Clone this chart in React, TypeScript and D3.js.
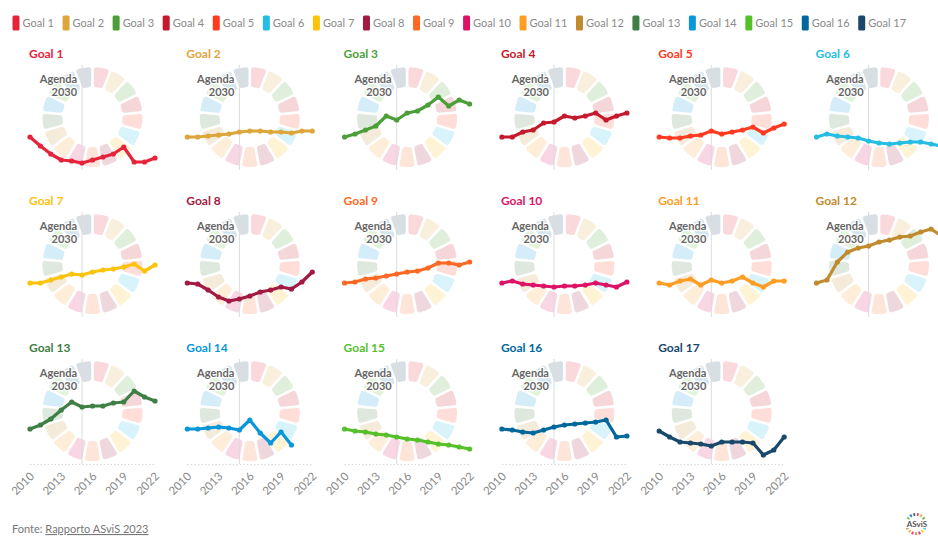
import React, { useMemo } from "react";
import * as d3 from "d3";

const years = [2010, 2011, 2012, 2013, 2014, 2015, 2016, 2017, 2018, 2019, 2020, 2021, 2022];
const tickYears = [2010, 2013, 2016, 2019, 2022];
const agendaYear = 2015;

const goalLabels = [
  "Goal 1", "Goal 2", "Goal 3", "Goal 4", "Goal 5", "Goal 6", "Goal 7", "Goal 8", "Goal 9",
  "Goal 10", "Goal 11", "Goal 12", "Goal 13", "Goal 14", "Goal 15", "Goal 16", "Goal 17",
];

const goalColors = [
  "#E5243B", "#DDA63A", "#4C9F38", "#C5192D", "#FF3A21", "#26BDE2", "#FCC30B", "#A21942", "#FD6925",
  "#DD1367", "#FD9D24", "#BF8B2E", "#3F7E44", "#0A97D9", "#56C02B", "#00689D", "#19486A",
];

const g1 = [100, 91, 83, 77, 76, 74, 77, 80, 83, 90, 75, 75, 79];
const g2 = [100, 100, 101, 102, 103, 105, 106, 106, 105, 105, 104, 106, 106];
const g3 = [100, 103, 107, 111, 121, 117, 124, 126, 132, 140, 131, 137, 133];
const g4 = [100, 100, 105, 107, 114, 115, 121, 119, 121, 124, 117, 121, 124];
const g5 = [100, 99, 99, 101, 102, 106, 103, 105, 107, 110, 104, 109, 113];
const g6 = [100, 103, 101, 100, 99, 96, 94, 93, 94, 95, 95, 93, 91];
const g7 = [101, 101, 104, 107, 110, 109, 112, 114, 115, 117, 120, 113, 119];
const g8 = [101, 100, 94, 87, 83, 85, 88, 92, 94, 97, 95, 102, 112];
const g9 = [101, 102, 105, 106, 108, 110, 112, 113, 116, 121, 121, 119, 122];
const g10 = [101, 103, 100, 99, 98, 97, 98, 98, 99, 101, 99, 97, 102];
const g11 = [101, 99, 103, 105, 99, 104, 101, 103, 107, 101, 97, 103, 103];
const g12 = [101, 104, 122, 132, 136, 138, 142, 144, 147, 148, 152, 155, 148];
const g13 = [102, 106, 112, 121, 129, 124, 125, 125, 128, 129, 140, 134, 130];
const g14 = [102, 102, 103, 104, 103, 101, 111, 98, 88, 99, 86];
const g15 = [102, 100, 99, 97, 96, 94, 92, 91, 89, 87, 86, 84, 82];
const g16 = [102, 101, 99, 98, 101, 104, 106, 107, 108, 109, 111, 94, 95];
const g17 = [100, 94, 89, 88, 87, 85, 89, 89, 89, 88, 76, 81, 94];

const series = [g1, g2, g3, g4, g5, g6, g7, g8, g9, g10, g11, g12, g13, g14, g15, g16, g17];

const yDomain = [68, 172];

const W = 938;
const H = 537;
const FONT = "Lato, 'Noto Sans', sans-serif";

function measure(text: string, font: string): number {
  if (typeof document === "undefined") return text.length * 5.5;
  const c = document.createElement("canvas");
  const ctx = c.getContext("2d");
  if (!ctx) return text.length * 5.5;
  ctx.font = font;
  return ctx.measureText(text).width;
}

export default function App() {
  const cols = 6;
  const colPitch = 157.3;
  const rowPitch = 147;
  const x0 = 30;
  const plotW = 125;
  const plotTop = 65;
  const plotBot = 169;

  const xBase = d3.scaleLinear().domain([2010, 2022]).range([0, plotW]);
  const yBase = d3.scaleLinear().domain(yDomain).range([plotBot, plotTop]);

  const arcGen = d3
    .arc<any>()
    .innerRadius(30)
    .outerRadius(50)
    .padAngle(0.045)
    .cornerRadius(2.5);

  const logoArc = d3.arc<any>().innerRadius(8).outerRadius(11).padAngle(0.12);

  const legend = useMemo(() => {
    const font = `11px ${FONT}`;
    let x = 12.5;
    return goalLabels.map((label, i) => {
      const w = measure(label, font);
      const item = { x, label, color: goalColors[i] };
      x += 10 + w + 8.6;
      return item;
    });
  }, []);

  const wheelAngles = goalColors.map((c, i) => ({
    startAngle: (i * 2 * Math.PI) / 17,
    endAngle: ((i + 1) * 2 * Math.PI) / 17,
    color: c,
  }));

  const lastRow = Math.floor((goalLabels.length - 1) / cols);

  return (
    <svg
      width={W}
      height={H}
      style={{ position: "absolute", left: 0, top: 0, background: "#fff" }}
      fontFamily={FONT}
    >
      {/* Legend */}
      {legend.map((it) => (
        <g key={it.label}>
          <rect x={it.x} y={15.5} width={7} height={15} rx={1.5} fill={it.color} />
          <text x={it.x + 10} y={27} fontSize={11} fill="#8a8a8a">
            {it.label}
          </text>
        </g>
      ))}

      {/* Panels */}
      {series.map((vals, i) => {
        const col = i % cols;
        const row = Math.floor(i / cols);
        const px = x0 + col * colPitch;
        const py = row * rowPitch;
        const x = (yr: number) => px + xBase(yr);
        const y = (v: number) => py + yBase(v);
        const cx = px + plotW / 2;
        const cy = py + 117;
        const vx = x(agendaYear);
        const pts = vals.map((v, k) => [x(years[k]), y(v)] as [number, number]);
        const line = d3.line()(pts) || "";
        const showAxis = row === lastRow;
        return (
          <g key={i}>
            <g transform={`translate(${cx},${cy})`} opacity={0.17}>
              {wheelAngles.map((a, k) => (
                <path key={k} d={arcGen(a) || ""} fill={a.color} />
              ))}
            </g>
            <line x1={vx} x2={vx} y1={py + plotTop} y2={py + plotBot + 1} stroke="#dcdcdc" strokeWidth={1} />
            <text x={px - 1} y={py + 58} fontSize={12} fontWeight={700} fill={goalColors[i]}>
              {goalLabels[i]}
            </text>
            <text
              x={vx - 5}
              y={py + 83}
              fontSize={11}
              fontWeight={700}
              fill="#666"
              textAnchor="end"
              stroke="#fff"
              strokeWidth={2.5}
              paintOrder="stroke"
            >
              Agenda
            </text>
            <text
              x={vx - 5}
              y={py + 96}
              fontSize={11}
              fontWeight={700}
              fill="#666"
              textAnchor="end"
              stroke="#fff"
              strokeWidth={2.5}
              paintOrder="stroke"
            >
              2030
            </text>
            <path d={line} fill="none" stroke={goalColors[i]} strokeWidth={3.2} strokeLinejoin="round" strokeLinecap="round" />
            {pts.map((p, k) => (
              <circle key={k} cx={p[0]} cy={p[1]} r={2.6} fill={goalColors[i]} />
            ))}
            {showAxis && (
              <g>
                <line
                  x1={px}
                  x2={px + plotW}
                  y1={py + plotBot + 1.5}
                  y2={py + plotBot + 1.5}
                  stroke="#d8d8d8"
                  strokeWidth={1}
                  strokeDasharray="1.5,2"
                />
                {tickYears.map((t) => (
                  <text
                    key={t}
                    transform={`translate(${x(t) + 5},${py + plotBot + 14}) rotate(-45)`}
                    textAnchor="end"
                    fontSize={11.5}
                    fill="#8a8a8a"
                  >
                    {t}
                  </text>
                ))}
              </g>
            )}
          </g>
        );
      })}

      {/* Source */}
      <text x={12} y={533} fontSize={11} fill="#777">
        Fonte: <tspan textDecoration="underline">Rapporto ASviS 2023</tspan>
      </text>

      {/* Logo */}
      <g transform="translate(916,524)">
        {wheelAngles.map((a, k) => (
          <path key={k} d={logoArc(a) || ""} fill={a.color} opacity={0.8} />
        ))}
        <rect x={-12} y={-4} width={26} height={8} fill="#fff" />
        <text x={1} y={3} fontSize={8} fontWeight={700} fill="#555" textAnchor="middle">
          ASviS
        </text>
      </g>
    </svg>
  );
}
